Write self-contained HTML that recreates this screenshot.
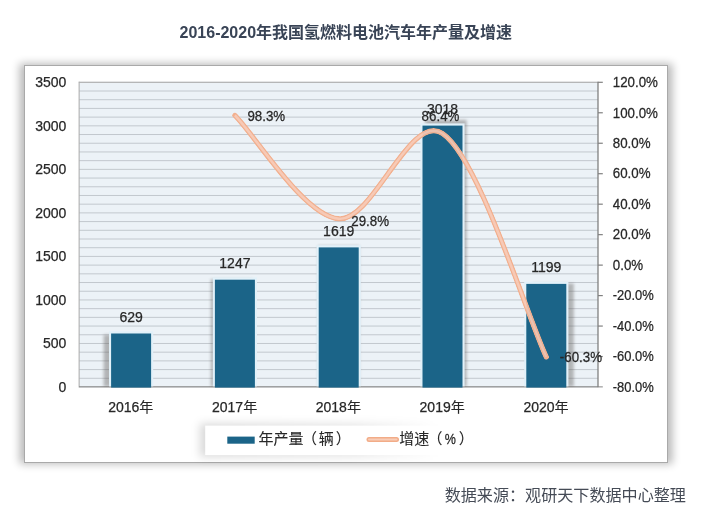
<!DOCTYPE html>
<html lang="zh"><head><meta charset="utf-8"><title>2016-2020年我国氢燃料电池汽车年产量及增速</title>
<style>
html,body{margin:0;padding:0;background:#fff;}
body{width:710px;height:523px;overflow:hidden;position:relative;font-family:"Liberation Sans","Noto Sans CJK SC",sans-serif;}
svg{position:absolute;left:0;top:0;display:block;}
text{font-family:"Liberation Sans","Noto Sans CJK SC",sans-serif;}
.n{font-size:14.0px;fill:#272727;stroke:#272727;stroke-width:0.25px;}
.c{font-size:15.0px;stroke-width:0.1px;}
.title{font-size:16px;font-weight:bold;fill:#394456;}
.src{font-size:16.08px;fill:#454b56;}
</style></head><body>
<svg width="710" height="523" viewBox="0 0 710 523">
<defs>
<filter id="sh" x="-5%" y="-8%" width="110%" height="116%"><feGaussianBlur stdDeviation="4"/></filter>
<filter id="bsh" x="-40%" y="-10%" width="180%" height="120%"><feGaussianBlur stdDeviation="1.7"/></filter>
<filter id="gl" x="-10%" y="-5%" width="120%" height="110%"><feGaussianBlur stdDeviation="0.5"/></filter>
<filter id="lsh" x="-10%" y="-60%" width="120%" height="220%"><feGaussianBlur stdDeviation="4"/></filter>
<linearGradient id="lg" x1="0" x2="1" y1="0" y2="0"><stop offset="0" stop-color="#000" stop-opacity="0.15"/><stop offset="0.55" stop-color="#000" stop-opacity="0.10"/><stop offset="0.85" stop-color="#000" stop-opacity="0"/></linearGradient>
</defs>

<text class="title" x="345.8" y="37.7" text-anchor="middle">2016-2020年我国氢燃料电池汽车年产量及增速</text>
<rect x="19.5" y="63.5" width="653" height="400.5" fill="#000" opacity="0.27" filter="url(#sh)"/>
<rect x="24.5" y="65.5" width="643" height="397" fill="#fff" stroke="#a9a9a9" stroke-width="1"/>
<rect x="79.0" y="82.3" width="519.0" height="304.7" fill="#ecf2f7"/>
<line x1="79.0" x2="598.0" y1="82.30" y2="82.30" stroke="#c2c8ce" stroke-width="1"/>
<line x1="79.0" x2="598.0" y1="91.01" y2="91.01" stroke="#c2c8ce" stroke-width="1"/>
<line x1="79.0" x2="598.0" y1="99.71" y2="99.71" stroke="#c2c8ce" stroke-width="1"/>
<line x1="79.0" x2="598.0" y1="108.42" y2="108.42" stroke="#c2c8ce" stroke-width="1"/>
<line x1="79.0" x2="598.0" y1="117.12" y2="117.12" stroke="#c2c8ce" stroke-width="1"/>
<line x1="79.0" x2="598.0" y1="125.83" y2="125.83" stroke="#c2c8ce" stroke-width="1"/>
<line x1="79.0" x2="598.0" y1="134.53" y2="134.53" stroke="#c2c8ce" stroke-width="1"/>
<line x1="79.0" x2="598.0" y1="143.24" y2="143.24" stroke="#c2c8ce" stroke-width="1"/>
<line x1="79.0" x2="598.0" y1="151.95" y2="151.95" stroke="#c2c8ce" stroke-width="1"/>
<line x1="79.0" x2="598.0" y1="160.65" y2="160.65" stroke="#c2c8ce" stroke-width="1"/>
<line x1="79.0" x2="598.0" y1="169.36" y2="169.36" stroke="#c2c8ce" stroke-width="1"/>
<line x1="79.0" x2="598.0" y1="178.06" y2="178.06" stroke="#c2c8ce" stroke-width="1"/>
<line x1="79.0" x2="598.0" y1="186.77" y2="186.77" stroke="#c2c8ce" stroke-width="1"/>
<line x1="79.0" x2="598.0" y1="195.47" y2="195.47" stroke="#c2c8ce" stroke-width="1"/>
<line x1="79.0" x2="598.0" y1="204.18" y2="204.18" stroke="#c2c8ce" stroke-width="1"/>
<line x1="79.0" x2="598.0" y1="212.89" y2="212.89" stroke="#c2c8ce" stroke-width="1"/>
<line x1="79.0" x2="598.0" y1="221.59" y2="221.59" stroke="#c2c8ce" stroke-width="1"/>
<line x1="79.0" x2="598.0" y1="230.30" y2="230.30" stroke="#c2c8ce" stroke-width="1"/>
<line x1="79.0" x2="598.0" y1="239.00" y2="239.00" stroke="#c2c8ce" stroke-width="1"/>
<line x1="79.0" x2="598.0" y1="247.71" y2="247.71" stroke="#c2c8ce" stroke-width="1"/>
<line x1="79.0" x2="598.0" y1="256.41" y2="256.41" stroke="#c2c8ce" stroke-width="1"/>
<line x1="79.0" x2="598.0" y1="265.12" y2="265.12" stroke="#c2c8ce" stroke-width="1"/>
<line x1="79.0" x2="598.0" y1="273.83" y2="273.83" stroke="#c2c8ce" stroke-width="1"/>
<line x1="79.0" x2="598.0" y1="282.53" y2="282.53" stroke="#c2c8ce" stroke-width="1"/>
<line x1="79.0" x2="598.0" y1="291.24" y2="291.24" stroke="#c2c8ce" stroke-width="1"/>
<line x1="79.0" x2="598.0" y1="299.94" y2="299.94" stroke="#c2c8ce" stroke-width="1"/>
<line x1="79.0" x2="598.0" y1="308.65" y2="308.65" stroke="#c2c8ce" stroke-width="1"/>
<line x1="79.0" x2="598.0" y1="317.35" y2="317.35" stroke="#c2c8ce" stroke-width="1"/>
<line x1="79.0" x2="598.0" y1="326.06" y2="326.06" stroke="#c2c8ce" stroke-width="1"/>
<line x1="79.0" x2="598.0" y1="334.77" y2="334.77" stroke="#c2c8ce" stroke-width="1"/>
<line x1="79.0" x2="598.0" y1="343.47" y2="343.47" stroke="#c2c8ce" stroke-width="1"/>
<line x1="79.0" x2="598.0" y1="352.18" y2="352.18" stroke="#c2c8ce" stroke-width="1"/>
<line x1="79.0" x2="598.0" y1="360.88" y2="360.88" stroke="#c2c8ce" stroke-width="1"/>
<line x1="79.0" x2="598.0" y1="369.59" y2="369.59" stroke="#c2c8ce" stroke-width="1"/>
<line x1="79.0" x2="598.0" y1="378.29" y2="378.29" stroke="#c2c8ce" stroke-width="1"/>
<line x1="79.0" x2="598.0" y1="387.00" y2="387.00" stroke="#c2c8ce" stroke-width="1"/>
<line x1="79.0" x2="79.0" y1="81.8" y2="387.5" stroke="#b2b2b2" stroke-width="1.4"/>
<line x1="79.0" x2="598.0" y1="82.3" y2="82.3" stroke="#b0b0b0" stroke-width="1"/>
<line x1="79.0" x2="598.0" y1="387.0" y2="387.0" stroke="#8c8c8c" stroke-width="1.3"/>
<line x1="598.0" x2="598.0" y1="81.8" y2="387.5" stroke="#808080" stroke-width="1.3"/>
<line x1="598.0" x2="602.8" y1="82.30" y2="82.30" stroke="#808080" stroke-width="1.2"/>
<line x1="598.0" x2="602.8" y1="112.77" y2="112.77" stroke="#808080" stroke-width="1.2"/>
<line x1="598.0" x2="602.8" y1="143.24" y2="143.24" stroke="#808080" stroke-width="1.2"/>
<line x1="598.0" x2="602.8" y1="173.71" y2="173.71" stroke="#808080" stroke-width="1.2"/>
<line x1="598.0" x2="602.8" y1="204.18" y2="204.18" stroke="#808080" stroke-width="1.2"/>
<line x1="598.0" x2="602.8" y1="234.65" y2="234.65" stroke="#808080" stroke-width="1.2"/>
<line x1="598.0" x2="602.8" y1="265.12" y2="265.12" stroke="#808080" stroke-width="1.2"/>
<line x1="598.0" x2="602.8" y1="295.59" y2="295.59" stroke="#808080" stroke-width="1.2"/>
<line x1="598.0" x2="602.8" y1="326.06" y2="326.06" stroke="#808080" stroke-width="1.2"/>
<line x1="598.0" x2="602.8" y1="356.53" y2="356.53" stroke="#808080" stroke-width="1.2"/>
<line x1="598.0" x2="602.8" y1="387.00" y2="387.00" stroke="#808080" stroke-width="1.2"/>
<text class="n" x="66.3" y="87.0" text-anchor="end">3500</text>
<text class="n" x="66.3" y="130.5" text-anchor="end">3000</text>
<text class="n" x="66.3" y="174.1" text-anchor="end">2500</text>
<text class="n" x="66.3" y="217.6" text-anchor="end">2000</text>
<text class="n" x="66.3" y="261.1" text-anchor="end">1500</text>
<text class="n" x="66.3" y="304.6" text-anchor="end">1000</text>
<text class="n" x="66.3" y="348.2" text-anchor="end">500</text>
<text class="n" x="66.3" y="391.7" text-anchor="end">0</text>
<text class="n" transform="translate(612.8,87.0) scale(0.952,1)">120.0%</text>
<text class="n" transform="translate(612.8,117.5) scale(0.952,1)">100.0%</text>
<text class="n" transform="translate(612.8,147.9) scale(0.952,1)">80.0%</text>
<text class="n" transform="translate(612.8,178.4) scale(0.952,1)">60.0%</text>
<text class="n" transform="translate(612.8,208.9) scale(0.952,1)">40.0%</text>
<text class="n" transform="translate(612.8,239.3) scale(0.952,1)">20.0%</text>
<text class="n" transform="translate(612.8,269.8) scale(0.952,1)">0.0%</text>
<text class="n" transform="translate(612.8,300.3) scale(0.925,1)">-20.0%</text>
<text class="n" transform="translate(612.8,330.8) scale(0.925,1)">-40.0%</text>
<text class="n" transform="translate(612.8,361.2) scale(0.925,1)">-60.0%</text>
<text class="n" transform="translate(612.8,391.7) scale(0.925,1)">-80.0%</text>
<rect x="103.6" y="334.8" width="41.3" height="51.7" fill="#5c5855" opacity="0.4" filter="url(#bsh)"/>
<rect x="210.8" y="279.2" width="41.3" height="107.3" fill="#5c5855" opacity="0.4" filter="url(#bsh)"/>
<rect x="318.0" y="245.8" width="41.3" height="140.7" fill="#5c5855" opacity="0.4" filter="url(#bsh)"/>
<rect x="425.3" y="119.9" width="41.3" height="266.6" fill="#5c5855" opacity="0.4" filter="url(#bsh)"/>
<rect x="532.5" y="283.5" width="41.3" height="103.0" fill="#5c5855" opacity="0.4" filter="url(#bsh)"/>
<rect x="73.0" y="387.6" width="531.0" height="8" fill="#fff"/>
<rect x="71.0" y="82.3" width="7.4" height="304.7" fill="#fff"/>
<rect x="109.0" y="331.3" width="44.2" height="55.1" fill="#e2f1f9" filter="url(#gl)"/>
<rect x="111.1" y="333.5" width="40.0" height="54.1" fill="#1b6488"/>
<rect x="212.8" y="277.5" width="44.2" height="108.9" fill="#e2f1f9" filter="url(#gl)"/>
<rect x="214.9" y="279.7" width="40.0" height="107.9" fill="#1b6488"/>
<rect x="316.6" y="245.2" width="44.2" height="141.2" fill="#e2f1f9" filter="url(#gl)"/>
<rect x="318.7" y="247.4" width="40.0" height="140.2" fill="#1b6488"/>
<rect x="420.4" y="123.4" width="44.2" height="263.0" fill="#e2f1f9" filter="url(#gl)"/>
<rect x="422.5" y="125.6" width="40.0" height="262.0" fill="#1b6488"/>
<rect x="524.2" y="281.7" width="44.2" height="104.7" fill="#e2f1f9" filter="url(#gl)"/>
<rect x="526.3" y="283.9" width="40.0" height="103.7" fill="#1b6488"/>
<text class="n" x="130.8" y="412.3" text-anchor="middle">2016<tspan class="c" style="font-size:14.1px">年</tspan></text>
<text class="n" x="234.6" y="412.3" text-anchor="middle">2017<tspan class="c" style="font-size:14.1px">年</tspan></text>
<text class="n" x="338.4" y="412.3" text-anchor="middle">2018<tspan class="c" style="font-size:14.1px">年</tspan></text>
<text class="n" x="442.2" y="412.3" text-anchor="middle">2019<tspan class="c" style="font-size:14.1px">年</tspan></text>
<text class="n" x="546.0" y="412.3" text-anchor="middle">2020<tspan class="c" style="font-size:14.1px">年</tspan></text>
<mask id="lm" maskUnits="userSpaceOnUse" x="0" y="0" width="710" height="523"><path d="M234.9,115.4 C255.7,136.1 303.8,215.8 338.7,218.8 C373.0,221.8 409.9,111.8 442.5,133.5 C479.1,157.9 525.5,312.3 546.3,357.0" fill="none" stroke="#fff" stroke-width="5.4" stroke-linecap="round" stroke-linejoin="round"/><path d="M234.9,115.4 C255.7,136.1 303.8,215.8 338.7,218.8 C373.0,221.8 409.9,111.8 442.5,133.5 C479.1,157.9 525.5,312.3 546.3,357.0" fill="none" stroke="#cfcfcf" stroke-width="2.4" stroke-linecap="butt" stroke-linejoin="round"/></mask>
<path d="M234.9,115.4 C255.7,136.1 303.8,215.8 338.7,218.8 C373.0,221.8 409.9,111.8 442.5,133.5 C479.1,157.9 525.5,312.3 546.3,357.0" fill="none" stroke="#f2b08f" stroke-width="5.4" stroke-linecap="round" stroke-linejoin="round" mask="url(#lm)"/>
<path d="M234.9,115.4 C255.7,136.1 303.8,215.8 338.7,218.8 C373.0,221.8 409.9,111.8 442.5,133.5 C479.1,157.9 525.5,312.3 546.3,357.0" fill="none" stroke="#f9cfbe" stroke-opacity="0.72" stroke-width="2.4" stroke-linecap="butt" stroke-linejoin="round"/>
<text class="n" x="131.1" y="321.5" text-anchor="middle">629</text>
<text class="n" x="234.9" y="267.7" text-anchor="middle">1247</text>
<text class="n" x="338.7" y="236.3" text-anchor="middle">1619</text>
<text class="n" x="442.5" y="113.6" text-anchor="middle">3018</text>
<text class="n" x="546.3" y="271.9" text-anchor="middle">1199</text>
<text class="n" transform="translate(247.4,120.6) scale(0.952,1)" text-anchor="start">98.3%</text>
<text class="n" transform="translate(351.3,225.8) scale(0.952,1)" text-anchor="start">29.8%</text>
<text class="n" transform="translate(440.5,120.7) scale(0.952,1)" text-anchor="middle">86.4%</text>
<text class="n" transform="translate(559.8,362.1) scale(0.952,1)" text-anchor="start">-60.3%</text>
<rect x="200" y="423.5" width="280" height="33.5" fill="url(#lg)" filter="url(#lsh)"/>
<rect x="205.2" y="425.6" width="290" height="29.5" fill="#fff"/>
<rect x="227.3" y="436.6" width="27.4" height="7.1" fill="#1b6488"/>
<text class="n c" x="258.6" y="443.9">年产量<tspan dx="-1.6">（</tspan><tspan dx="1.6">辆</tspan><tspan dx="2.2">）</tspan></text>
<path d="M369,439.4 H396.5" stroke="#f2ac88" stroke-width="5" stroke-linecap="round"/>
<path d="M369,439.4 H396.5" stroke="#f8cdb8" stroke-width="2" stroke-linecap="round"/>
<text class="n c" y="444.1"><tspan x="399.3">增速</tspan><tspan x="427.6">（</tspan><tspan x="458.7">）</tspan></text>
<text class="n" transform="translate(444.7,444.1) scale(0.87,1)" style="font-size:14.4px">%</text>
<text class="src" x="685.9" y="500.5" text-anchor="end">数据来源：观研天下数据中心整理</text>
</svg></body></html>
